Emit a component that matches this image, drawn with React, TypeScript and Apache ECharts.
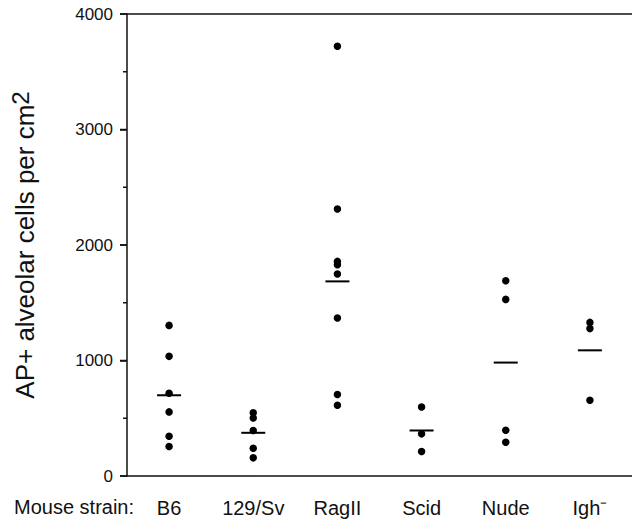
import React, { useEffect, useRef } from "react";
import * as echarts from "echarts";

const strains = ["B6", "129/Sv", "RagII", "Scid", "Nude", "Igh⁻"];
const yTicks = [0, 1000, 2000, 3000, 4000];
const yMinorTicks = [500, 1500, 2500, 3500];

const b6Values = [1304, 1036, 716, 555, 344, 255];
const sv129Values = [547, 503, 394, 240, 157];
const ragValues = [3721, 2311, 1858, 1829, 1749, 1368, 705, 612];
const scidValues = [598, 365, 212];
const nudeValues = [1691, 1529, 396, 292];
const ighValues = [1330, 1276, 656];
const meanValues = [699, 374, 1685, 394, 982, 1088];

const groups = [b6Values, sv129Values, ragValues, scidValues, nudeValues, ighValues];

const FONT = "'Liberation Sans', Arial, Helvetica, sans-serif";
const INK = "#111";

export default function App() {
  const ref = useRef<HTMLDivElement>(null);
  useEffect(() => {
    if (!ref.current) return;
    const chart = echarts.init(ref.current, null, { renderer: "svg" });
    const points: [number, number][] = [];
    groups.forEach((g, i) => g.forEach((v) => points.push([i, v])));
    const means = meanValues.map((v, i) => [i, v]);
    const tickData = [
      ...yTicks.map((v) => [0, v, 7]),
      ...yMinorTicks.map((v) => [0, v, 4]),
    ];
    chart.setOption({
      animation: false,
      backgroundColor: "#fff",
      grid: { left: 127, top: 14, width: 508, bottom: 44 },
      xAxis: [
        {
          type: "category",
          data: strains,
          position: "bottom",
          axisLine: { show: true, lineStyle: { color: INK, width: 1.5 } },
          axisTick: { show: false },
          axisLabel: {
            margin: 22,
            fontSize: 20,
            fontFamily: FONT,
            color: INK,
          },
          splitLine: { show: false },
        },
        {
          type: "category",
          data: strains,
          position: "top",
          axisLine: { show: true, lineStyle: { color: INK, width: 1.5 } },
          axisTick: { show: false },
          axisLabel: { show: false },
          splitLine: { show: false },
        },
      ],
      yAxis: {
        type: "value",
        position: "left",
        min: yTicks[0],
        max: yTicks[yTicks.length - 1],
        interval: 1000,
        axisLine: { show: true, onZero: false, lineStyle: { color: INK, width: 1.5 } },
        axisTick: { show: true, inside: false, length: 7, lineStyle: { color: INK, width: 1.5 } },
        splitLine: { show: false },
        axisLabel: {
          show: true,
          margin: 14,
          fontSize: 17,
          fontFamily: FONT,
          color: INK,
          formatter: (v: number) => String(v),
        },
        name: "{a|AP+ alveolar cells per cm}{s|2}",
        nameLocation: "middle",
        nameGap: 85,
        nameTextStyle: {
          fontFamily: FONT,
          color: INK,
          rich: {
            a: { fontSize: 26, fontFamily: FONT, color: INK, lineHeight: 34 },
            s: { fontSize: 24, fontFamily: FONT, color: INK, lineHeight: 20, verticalAlign: "top" },
          },
        },
      },
      graphic: [
        {
          type: "text",
          left: 14,
          top: 497,
          style: {
            text: "Mouse strain:",
            fontSize: 20,
            fontFamily: FONT,
            fill: INK,
          },
        },
      ],
      series: [
        {
          type: "custom",
          data: tickData,
          encode: { x: 0, y: 1 },
          clip: false,
          silent: true,
          z: 10,
          renderItem: (params: any, api: any) => {
            const v = api.value(1);
            const len = api.value(2);
            const p = api.coord([0, v]);
            const half = api.size([1, 0])[0] / 2;
            const x0 = p[0] - half;
            return {
              type: "rect",
              shape: { x: x0 - len, y: p[1] - 0.75, width: len, height: 1.5 },
              style: { fill: INK },
            };
          },
        },
        {
          type: "scatter",
          data: points,
          symbol: "circle",
          symbolSize: 7.5,
          itemStyle: { color: "#000", opacity: 1 },
        },
        {
          type: "scatter",
          data: means,
          symbol: "rect",
          symbolSize: [24, 2],
          itemStyle: { color: "#000", opacity: 1 },
        },
      ],
    });
    return () => chart.dispose();
  }, []);
  return (
    <div
      ref={ref}
      style={{ position: "fixed", left: 0, top: 0, width: 632, height: 520, background: "#fff" }}
    />
  );
}
